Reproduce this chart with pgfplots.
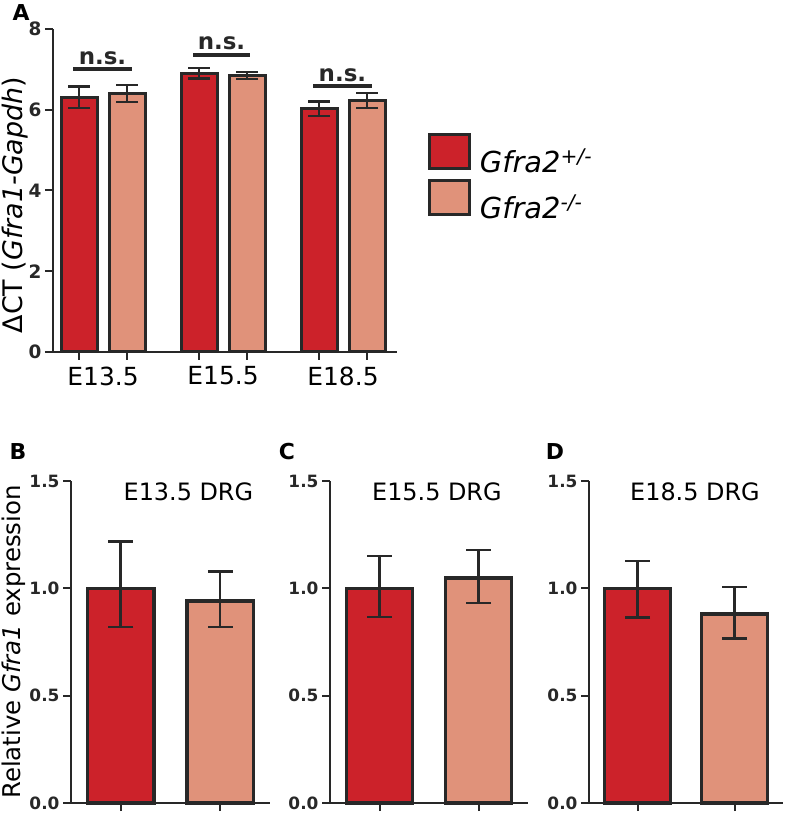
\documentclass[border=0pt]{standalone}
\usepackage{pgfplots}
\pgfplotsset{compat=1.18}
\usepackage{pgfplotstable}
\usepackage{fontspec}
\setmainfont{DejaVu Sans}
\definecolor{redbar}{RGB}{204,34,42}
\definecolor{salmon}{RGB}{224,146,122}
\definecolor{edge}{RGB}{40,40,40}

% x, value, upper end, lower end
\pgfplotstableread{
x    y     hi    lo
-0.2 6.31  6.58  6.04
0.8  6.91  7.03  6.78
1.8  6.04  6.21  5.84
}\Ahet
\pgfplotstableread{
x    y     hi    lo
0.2  6.41  6.61  6.19
1.2  6.86  6.93  6.76
2.2  6.24  6.41  6.04
}\Ako
\pgfplotstableread{
x y    hi    lo
0 1.00 1.217 0.819
1 0.94 1.078 0.819
}\Bdata
\pgfplotstableread{
x y    hi    lo
0 1.00 1.150 0.866
1 1.048 1.178 0.932
}\Cdata
\pgfplotstableread{
x y    hi    lo
0 1.00 1.128 0.865
1 0.880 1.007 0.767
}\Ddata

\pgfplotsset{
  /pgfplots/ybar legend/.style={legend image code/.code={\draw[##1, line width=3bp] (0bp,-7bp) rectangle (40bp,27bp);}},
  base/.style={scale only axis, axis x line=bottom, axis y line=left,
    axis line style={-, line width=2bp, edge},
    tick style={line width=2bp, edge}, tick align=outside, major tick length=7bp,
    /pgf/number format/assume math mode=true,
    clip=false, ybar, bar shift=0pt,
    error bars/y dir=both, error bars/y explicit,
    error bars/error bar style={line width=2.5bp, edge},
  },
  smallp/.style={base, width=198bp, height=322bp, anchor=south west,
    xmin=-0.5, xmax=1.5, ymin=0, ymax=1.5, ytick={0,0.5,1,1.5},
    xtick={0,1}, xticklabels={}, major tick length=8bp,
    bar width=66bp,
    yticklabel style={font=\bfseries\fontsize{17}{17}\selectfont, text=edge,
      /pgf/number format/fixed, /pgf/number format/fixed zerofill, /pgf/number format/precision=1},
    error bars/error mark options={rotate=90, mark size=12.5bp, line width=2.5bp, edge},
    every axis plot/.append style={draw=edge, line width=3.5bp},
  },
}

\begin{document}
\begin{tikzpicture}
\useasboundingbox (0,0) rectangle (786bp,814bp);

% Panel A
\begin{axis}[base, at={(53bp,462bp)}, anchor=south west, width=344bp, height=323bp,
  xmin=-0.417, xmax=2.45, ymin=0, ymax=8, ytick={0,2,4,6,8},
  xtick={-0.2,0.2,0.8,1.2,1.8,2.2}, xticklabels={}, major tick length=8bp,
  yticklabel style={font=\bfseries\fontsize{18.5}{18.5}\selectfont, text=edge},
  extra x ticks={0,1,2}, extra x tick labels={E13.5,E15.5,E18.5},
  extra x tick style={major tick length=0pt, tick style={draw=none},
    xticklabel style={font=\fontsize{25}{25}\selectfont, text=black, yshift=-11bp}},
  bar width=36bp,
  error bars/error mark options={rotate=90, mark size=11bp, line width=2.5bp, edge},
  every axis plot/.append style={draw=edge, line width=3bp},
  ylabel={ΔCT (\textit{Gfra1-Gapdh})},
  ylabel style={at={(axis description cs:-0.11,0.455)}, anchor=center, rotate=0,
    font=\fontsize{27}{27}\selectfont, text=black},
  legend style={at={(axis description cs:1.09,0.68)}, anchor=north west, draw=none, fill=none,
    font=\fontsize{29}{29}\selectfont, row sep=1bp, inner sep=0pt,
    nodes={inner sep=4bp, text=black}},
  legend cell align=left,
]
\addplot[fill=redbar] table[x=x, y=y, y error plus expr=\thisrow{hi}-\thisrow{y}, y error minus expr=\thisrow{y}-\thisrow{lo}] {\Ahet};
\addplot[fill=salmon] table[x=x, y=y, y error plus expr=\thisrow{hi}-\thisrow{y}, y error minus expr=\thisrow{y}-\thisrow{lo}] {\Ako};
\legend{\,\textit{Gfra2}\textsuperscript{\textit{+/-}}, \,\textit{Gfra2}\textsuperscript{\textit{-/-}}}
\draw[line width=4bp, edge] (axis cs:-0.25,7.0) -- (axis cs:0.24,7.0) node[midway, above=3bp, font=\bfseries\fontsize{23}{23}\selectfont, text=edge, inner sep=0pt] {n.s.};
\draw[line width=4bp, edge] (axis cs:0.75,7.35) -- (axis cs:1.225,7.35) node[midway, above=3bp, font=\bfseries\fontsize{23}{23}\selectfont, text=edge, inner sep=0pt] {n.s.};
\draw[line width=4bp, edge] (axis cs:1.75,6.58) -- (axis cs:2.24,6.58) node[midway, above=3bp, font=\bfseries\fontsize{23}{23}\selectfont, text=edge, inner sep=0pt] {n.s.};
\end{axis}

% Panel B
\begin{axis}[smallp, at={(71bp,11bp)}, width=199bp,
  ylabel={Relative \textit{Gfra1} expression},
  ylabel style={at={(axis description cs:-0.29,0.5)}, anchor=center, rotate=0,
    font=\fontsize{24.5}{24.5}\selectfont, text=black},
]
\addplot[fill=redbar] table[x=x, y=y, y error plus expr=\thisrow{hi}-\thisrow{y}, y error minus expr=\thisrow{y}-\thisrow{lo}, restrict expr to domain={\coordindex}{0:0}] {\Bdata};
\addplot[fill=salmon] table[x=x, y=y, y error plus expr=\thisrow{hi}-\thisrow{y}, y error minus expr=\thisrow{y}-\thisrow{lo}, restrict expr to domain={\coordindex}{1:1}] {\Bdata};
\node[font=\fontsize{24}{24}\selectfont, text=black] at (rel axis cs:0.59,0.966) {E13.5 DRG};
\end{axis}

% Panel C
\begin{axis}[smallp, at={(330bp,11bp)}, width=198bp]
\addplot[fill=redbar] table[x=x, y=y, y error plus expr=\thisrow{hi}-\thisrow{y}, y error minus expr=\thisrow{y}-\thisrow{lo}, restrict expr to domain={\coordindex}{0:0}] {\Cdata};
\addplot[fill=salmon] table[x=x, y=y, y error plus expr=\thisrow{hi}-\thisrow{y}, y error minus expr=\thisrow{y}-\thisrow{lo}, restrict expr to domain={\coordindex}{1:1}] {\Cdata};
\node[font=\fontsize{24}{24}\selectfont, text=black] at (rel axis cs:0.54,0.966) {E15.5 DRG};
\end{axis}

% Panel D
\begin{axis}[smallp, at={(589bp,11bp)}, width=194bp]
\addplot[fill=redbar] table[x=x, y=y, y error plus expr=\thisrow{hi}-\thisrow{y}, y error minus expr=\thisrow{y}-\thisrow{lo}, restrict expr to domain={\coordindex}{0:0}] {\Ddata};
\addplot[fill=salmon] table[x=x, y=y, y error plus expr=\thisrow{hi}-\thisrow{y}, y error minus expr=\thisrow{y}-\thisrow{lo}, restrict expr to domain={\coordindex}{1:1}] {\Ddata};
\node[font=\fontsize{24}{24}\selectfont, text=black] at (rel axis cs:0.546,0.966) {E18.5 DRG};
\end{axis}

% panel letters
\node[font=\bfseries\fontsize{22}{22}\selectfont] at (21bp,801bp) {A};
\node[font=\bfseries\fontsize{22}{22}\selectfont] at (18bp,362bp) {B};
\node[font=\bfseries\fontsize{22}{22}\selectfont] at (287bp,362bp) {C};
\node[font=\bfseries\fontsize{22}{22}\selectfont] at (555bp,362bp) {D};
\end{tikzpicture}
\end{document}
